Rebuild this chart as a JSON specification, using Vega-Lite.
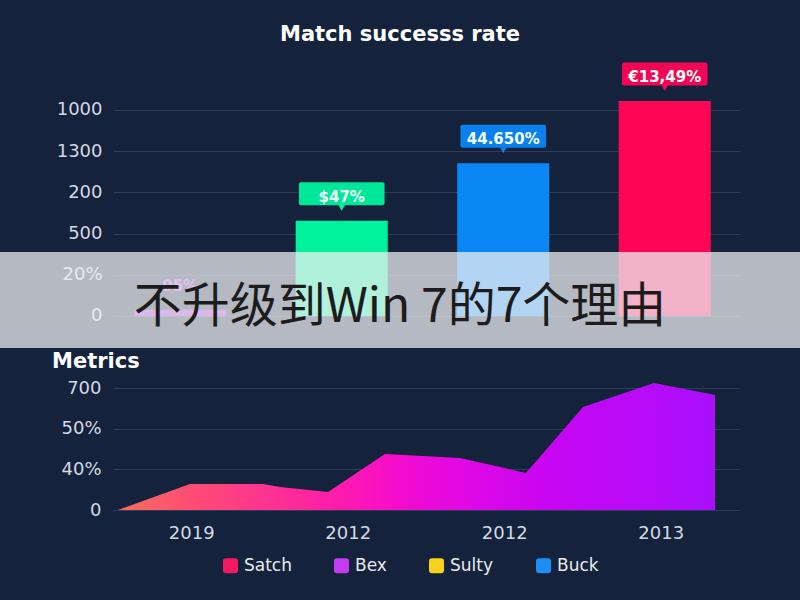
{
  "$schema": "https://vega.github.io/schema/vega-lite/v6.json",
  "background": "#14223c",
  "padding": {"left": 0, "right": 0, "top": 0, "bottom": 26},
  "bounds": "flush",
  "spacing": 30,
  "config": {
    "view": {"stroke": null},
    "font": "DejaVu Sans",
    "axis": {"labelFont": "DejaVu Sans", "labelFontSize": 18, "labelColor": "#d3d9e2", "gridColor": "#2d3d59", "gridWidth": 1, "domain": false, "ticks": false, "title": null},
    "title": {"color": "#ffffff", "font": "DejaVu Sans", "fontWeight": "bold", "fontSize": 21}
  },
  "resolve": {"scale": {"x": "independent", "y": "independent", "color": "independent"}, "legend": {"color": "independent"}},
  "vconcat": [
    {
      "width": 800,
      "height": 348,
      "title": {"text": "Match successs rate", "anchor": "middle", "frame": "group", "offset": -41, "dy": 21, "baseline": "alphabetic"},
      "layer": [
        {
          "data": {"name": "bars", "values": [
            {"cat": "A", "v": 0.15, "label": "95%"},
            {"cat": "B", "v": 2.31, "label": "$47%"},
            {"cat": "C", "v": 3.71, "label": "44.650%"},
            {"cat": "D", "v": 5.22, "label": "€13,49%"}
          ]},
          "layer": [
            {
              "mark": {"type": "bar"},
              "encoding": {
                "x": {"field": "cat", "type": "nominal", "axis": null, "scale": {"range": [113, 740], "paddingInner": 0.43, "paddingOuter": 0.156, "align": 0.42}},
                "y": {"field": "v", "type": "quantitative", "scale": {"domain": [-0.777, 7.67], "nice": false, "zero": false}, "axis": {"values": [0, 1, 2, 3, 4, 5], "labelExpr": "['0','20%','500','200','1300','1000'][datum.value]", "offset": -113, "labelPadding": 11, "grid": true}},
                "color": {"field": "cat", "type": "nominal", "legend": null, "scale": {"domain": ["A", "B", "C", "D"], "range": ["#ab1bdc", "#00f29f", "#0a86f5", "#ff0457"]}}
              }
            },
            {
              "transform": [{"filter": "datum.v > 1"}],
              "mark": {"type": "rect", "height": 23, "yOffset": -27, "width": {"band": 0.93}, "cornerRadius": 2, "opacity": 0.95},
              "encoding": {
                "x": {"field": "cat", "type": "nominal"},
                "y": {"field": "v", "type": "quantitative"},
                "color": {"field": "cat", "type": "nominal"}
              }
            },
            {
              "transform": [{"filter": "datum.v > 1"}],
              "mark": {"type": "point", "shape": "triangle-down", "filled": true, "size": 45, "yOffset": -13, "opacity": 1},
              "encoding": {
                "x": {"field": "cat", "type": "nominal"},
                "y": {"field": "v", "type": "quantitative"},
                "color": {"field": "cat", "type": "nominal"}
              }
            },
            {
              "mark": {"type": "text", "yOffset": -24, "fontSize": 15, "fontWeight": "bold", "baseline": "middle", "font": "DejaVu Sans"},
              "encoding": {
                "x": {"field": "cat", "type": "nominal"},
                "y": {"field": "v", "type": "quantitative"},
                "text": {"field": "label"},
                "color": {"condition": {"test": "datum.v < 1", "value": "#c23ee8"}, "value": "#f2fff9"}
              }
            }
          ]
        },
        {
          "data": {"values": [{"headline": "不升级到Win 7的7个理由"}]},
          "layer": [
            {
              "mark": {"type": "rect", "color": "#eef0f2", "opacity": 0.74},
              "encoding": {
                "y": {"datum": 1.553, "type": "quantitative"},
                "y2": {"datum": -0.777}
              }
            },
            {
              "mark": {"type": "text", "font": "Noto Sans CJK SC", "fontSize": 48, "color": "#1c1c1c", "baseline": "middle", "align": "center"},
              "encoding": {
                "y": {"datum": 0.2, "type": "quantitative"},
                "text": {"field": "headline"}
              }
            }
          ]
        }
      ]
    },
    {
      "width": 800,
      "height": 132,
      "title": {"text": "Metrics", "anchor": "start", "frame": "group", "dx": 52, "offset": 10, "dy": 21, "baseline": "alphabetic"},
      "layer": [
        {
          "data": {"values": [
            {"t": 0.532, "m": 0},
            {"t": 0.992, "m": 0.639},
            {"t": 1.458, "m": 0.639},
            {"t": 1.567, "m": 0.565},
            {"t": 1.874, "m": 0.442},
            {"t": 2.238, "m": 1.377},
            {"t": 2.717, "m": 1.279},
            {"t": 3.139, "m": 0.91},
            {"t": 3.503, "m": 2.533},
            {"t": 3.957, "m": 3.123},
            {"t": 4.347, "m": 2.828}
          ]},
          "mark": {"type": "area", "interpolate": "linear", "color": {"gradient": "linear", "x1": 0, "x2": 1, "y1": 0, "y2": 0, "stops": [
            {"offset": 0, "color": "#f7705c"},
            {"offset": 0.12, "color": "#ff4d73"},
            {"offset": 0.355, "color": "#ff1ea8"},
            {"offset": 0.47, "color": "#f40ccc"},
            {"offset": 0.57, "color": "#e208e4"},
            {"offset": 0.72, "color": "#c806f2"},
            {"offset": 1, "color": "#a90ffc"}
          ]}},
          "encoding": {
            "x": {"field": "t", "type": "quantitative", "scale": {"domain": [0.5, 4.5], "range": [113, 739], "nice": false, "zero": false}, "axis": {"values": [1, 2, 3, 4], "labelExpr": "datum.value == 1 ? '2019' : datum.value == 4 ? '2013' : '2012'", "labelPadding": 14, "grid": false}},
            "y": {"field": "m", "type": "quantitative", "scale": {"domain": [0, 3.246], "nice": false}, "axis": {"values": [0, 1, 2, 3], "labelExpr": "['0','40%','50%','700'][datum.value]", "offset": -113, "labelPadding": 12, "grid": true}}
          }
        },
        {
          "data": {"values": [{"series": "Satch"}, {"series": "Bex"}, {"series": "Sulty"}, {"series": "Buck"}]},
          "mark": {"type": "square", "opacity": 0},
          "encoding": {
            "color": {"field": "series", "type": "nominal", "scale": {"domain": ["Satch", "Bex", "Sulty", "Buck"], "range": ["#f5195f", "#c43cf0", "#f8d31a", "#1c8ff5"]},
              "legend": {"orient": "none", "legendX": 222, "legendY": 179, "direction": "horizontal", "title": null, "symbolType": "M-0.6,-1H0.6Q1,-1,1,-0.6V0.6Q1,1,0.6,1H-0.6Q-1,1,-1,0.6V-0.6Q-1,-1,-0.6,-1Z", "symbolSize": 225, "symbolStrokeWidth": 0, "symbolOpacity": 1, "labelFontSize": 17, "labelFont": "DejaVu Sans", "labelColor": "#e8ebf0", "labelOffset": 5, "columnPadding": 41}}
          }
        }
      ]
    }
  ]
}
